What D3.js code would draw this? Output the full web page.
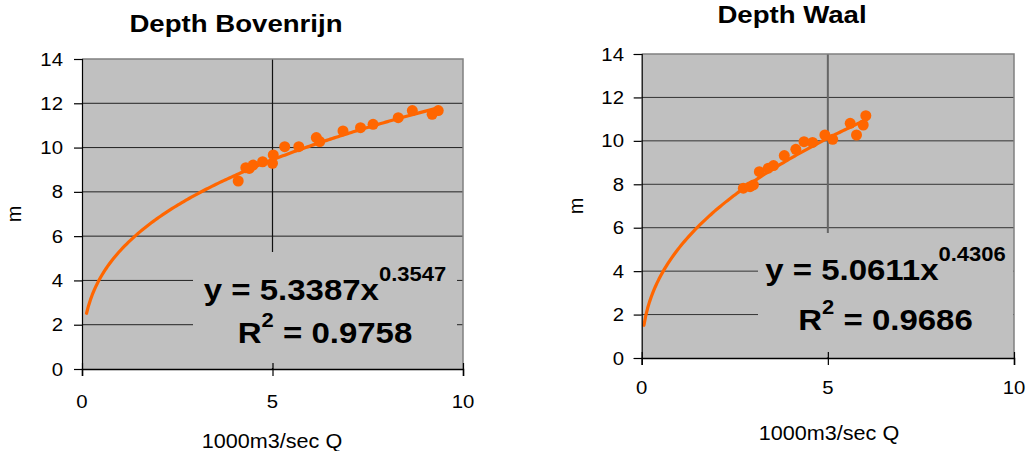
<!DOCTYPE html>
<html>
<head>
<meta charset="utf-8">
<script src="https://cdn.jsdelivr.net/npm/d3@7"></script>
<style>
  html, body { margin: 0; padding: 0; background: #ffffff; }
  svg { display: block; font-family: "Liberation Sans", Arial, sans-serif; }
</style>
</head>
<body>
<svg id="chart" width="1030" height="451"></svg>
<script>
// ---- Data: Bovenrijn (discharge in 1000 m3/s, depth in m) ----
const bovenrijnQ = [4.10, 4.30, 4.39, 4.49, 4.74, 5.00, 5.02, 5.32, 5.69, 6.15, 6.24, 6.85, 7.31, 7.64, 8.30, 8.67, 9.19, 9.35];
const bovenrijnDepth = [8.49, 9.09, 9.06, 9.21, 9.36, 9.29, 9.67, 10.04, 10.04, 10.45, 10.27, 10.75, 10.90, 11.05, 11.35, 11.67, 11.50, 11.67];
const bovenrijnFit = { a: 5.3387, b: 0.3547, r2: 0.9758, from: 0.12, to: 9.35 };

// ---- Data: Waal ----
const waalQ = [2.73, 2.91, 3.00, 3.16, 3.40, 3.54, 3.83, 4.14, 4.36, 4.59, 4.92, 5.13, 5.60, 5.77, 5.95, 6.02];
const waalDepth = [7.82, 7.89, 7.97, 8.58, 8.74, 8.86, 9.32, 9.61, 9.96, 9.93, 10.27, 10.07, 10.81, 10.27, 10.73, 11.16];
const waalFit = { a: 5.0611, b: 0.4306, r2: 0.9686, from: 0.06, to: 6.05 };

// ---- Axis ticks and labels ----
const xTicks = [0, 5, 10];
const yTicks = [0, 2, 4, 6, 8, 10, 12, 14];
const xTitle = "1000m3/sec Q";
const yTitle = "m";

const ORANGE = "#ff6600";
const PLOT_BG = "#c0c0c0";
const svg = d3.select("#chart");

// text drawn with a slight horizontal stretch (wide Arial look)
function stretchedText(parent, x, y, str, opts) {
  const g = parent.append("g")
    .attr("transform", `translate(${x},${y}) scale(${opts.sx || 1},1)` + (opts.rotate ? ` rotate(${opts.rotate})` : ""));
  return g.append("text")
    .attr("x", 0).attr("y", 0)
    .attr("text-anchor", opts.anchor || "middle")
    .attr("font-size", opts.size)
    .attr("font-weight", opts.bold ? "bold" : "normal")
    .attr("fill", "#000")
    .text(str);
}

function drawPanel(cfg) {
  const x = d3.scaleLinear().domain([0, 10]).range([cfg.x0, cfg.x1]);
  const y = d3.scaleLinear().domain([0, 14]).range([cfg.y0, cfg.y1]);
  const g = svg.append("g");

  // plot area background
  g.append("rect")
    .attr("x", x(0)).attr("y", y(14))
    .attr("width", x(10) - x(0)).attr("height", y(0) - y(14))
    .attr("fill", PLOT_BG);

  // gridlines
  g.append("g").selectAll("line").data(yTicks.filter(d => d > 0 && d < 14)).join("line")
    .attr("x1", x(0)).attr("x2", x(10))
    .attr("y1", d => y(d)).attr("y2", d => y(d))
    .attr("stroke", cfg.gridColor).attr("stroke-width", 1);
  g.append("g").selectAll("line").data(xTicks.filter(d => d > 0 && d < 10)).join("line")
    .attr("x1", d => x(d)).attr("x2", d => x(d))
    .attr("y1", y(14)).attr("y2", y(0))
    .attr("stroke", cfg.vGridColor).attr("stroke-width", cfg.vGridWidth);

  // top and right frame
  g.append("path")
    .attr("d", `M${x(0)},${y(14)}H${x(10)}V${y(0)}`)
    .attr("fill", "none").attr("stroke", "#808080").attr("stroke-width", 1.5);

  // equation label box (plot-coloured, covers the gridlines behind it)
  g.append("rect")
    .attr("x", cfg.box[0]).attr("y", cfg.box[1])
    .attr("width", cfg.box[2] - cfg.box[0]).attr("height", cfg.box[3] - cfg.box[1])
    .attr("fill", PLOT_BG);

  // power-law trendline y = a * x^b
  const fit = cfg.fit;
  const xs = d3.range(fit.from, fit.to, 0.05).concat([fit.to]);
  g.append("path")
    .datum(xs)
    .attr("d", d3.line().x(d => x(d)).y(d => y(fit.a * Math.pow(d, fit.b))))
    .attr("fill", "none").attr("stroke", ORANGE).attr("stroke-width", 3.2)
    .attr("stroke-linejoin", "round").attr("stroke-linecap", "round");

  // observations
  g.append("g").selectAll("circle").data(cfg.q.map((q, i) => [q, cfg.depth[i]])).join("circle")
    .attr("cx", d => x(d[0])).attr("cy", d => y(d[1]))
    .attr("r", 5.5).attr("fill", ORANGE);

  // axes
  const yAxis = g.append("g").attr("transform", `translate(${x(0)},0)`)
    .call(d3.axisLeft(y).tickValues(yTicks).tickSize(8).tickFormat(""));
  yAxis.select(".domain").attr("stroke", "#000").attr("stroke-width", 1.2);
  yAxis.selectAll(".tick line").attr("stroke", "#000").attr("stroke-width", 1.2);

  const xAxis = g.append("g").attr("transform", `translate(0,${y(0)})`)
    .call(d3.axisBottom(x).tickValues(xTicks).tickSize(7).tickFormat(""));
  xAxis.select(".domain").attr("stroke", "#000").attr("stroke-width", 1.5);
  xAxis.selectAll(".tick line").attr("stroke", "#000").attr("stroke-width", 1.2).attr("y1", -6);

  // tick labels
  yTicks.forEach(t => stretchedText(g, cfg.yLabelRight, y(t) + 6.5, String(t), { size: 18.5, anchor: "end", sx: 1.1 }));
  xTicks.forEach(t => stretchedText(g, x(t), cfg.xLabelBase, String(t), { size: 18.5, sx: 1.1 }));

  // titles
  stretchedText(g, cfg.title[0], cfg.title[1], cfg.titleText, { size: 24, bold: true, sx: 1.15 });
  stretchedText(g, cfg.xTitle[0], cfg.xTitle[1], xTitle, { size: 20, sx: 1.08 });
  stretchedText(g, cfg.yTitle[0], cfg.yTitle[1], yTitle, { size: 20, sx: 1, rotate: -90 });

  // equation and R²
  const cx = (cfg.box[0] + cfg.box[2]) / 2;
  const eq = g.append("g").attr("transform", `translate(${cx},${cfg.eqBase}) scale(1.1,1)`)
    .append("text").attr("text-anchor", "middle").attr("font-weight", "bold").attr("font-size", 30).attr("fill", "#000");
  eq.append("tspan").text(`y = ${fit.a.toFixed(4)}x`);
  eq.append("tspan").attr("dy", -19).attr("font-size", 20).text(fit.b.toFixed(4));

  const r2 = g.append("g").attr("transform", `translate(${cx},${cfg.r2Base}) scale(1.1,1)`)
    .append("text").attr("text-anchor", "middle").attr("font-weight", "bold").attr("font-size", 30).attr("fill", "#000");
  r2.append("tspan").text("R");
  r2.append("tspan").attr("dy", -16).attr("font-size", 20).text("2");
  r2.append("tspan").attr("dy", 16).text(` = ${fit.r2.toFixed(4)}`);
}

drawPanel({
  titleText: "Depth Bovenrijn", title: [236, 32],
  x0: 82, x1: 463, y0: 369, y1: 59,
  q: bovenrijnQ, depth: bovenrijnDepth, fit: bovenrijnFit,
  gridColor: "#222", vGridColor: "#111", vGridWidth: 1.2,
  box: [193, 252, 457, 368], eqBase: 300, r2Base: 343,
  yLabelRight: 63, xLabelBase: 408,
  xTitle: [272, 448], yTitle: [21, 214]
});

drawPanel({
  titleText: "Depth Waal", title: [792, 23],
  x0: 641.7, x1: 1014, y0: 358, y1: 54,
  q: waalQ, depth: waalDepth, fit: waalFit,
  gridColor: "#333", vGridColor: "#666", vGridWidth: 2,
  box: [758, 233, 1013, 357], eqBase: 280, r2Base: 330,
  yLabelRight: 624, xLabelBase: 394,
  xTitle: [829, 440], yTitle: [583, 206]
});
</script>
</body>
</html>
